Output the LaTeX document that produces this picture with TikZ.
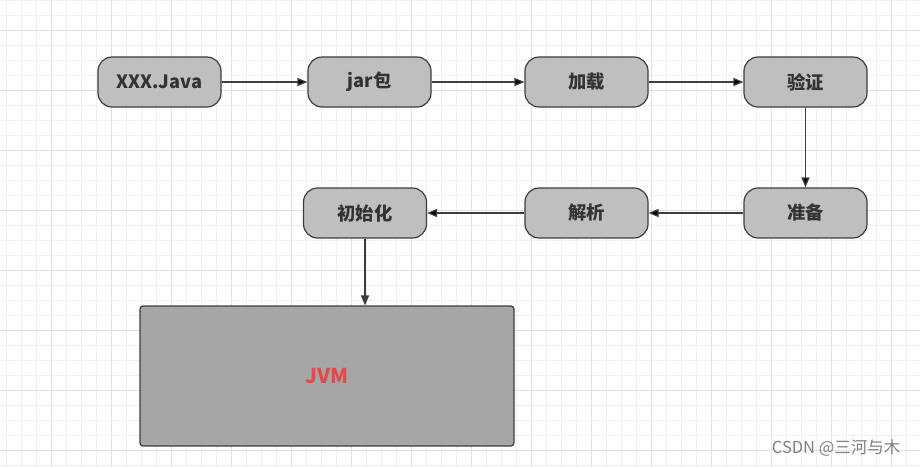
\documentclass[tikz,border=0pt]{standalone}
\usepackage{fontspec}
\newfontfamily\cjk{Noto Sans CJK SC}
\usetikzlibrary{arrows.meta, positioning}
\definecolor{gridminor}{HTML}{F0F0F0}
\definecolor{gridmajor}{HTML}{E2E2E2}
\definecolor{boxfill}{HTML}{BFBFBF}
\definecolor{jvmfill}{HTML}{A6A6A6}
\definecolor{edgecol}{HTML}{3A3D42}
\definecolor{jvmred}{HTML}{E8474C}

\begin{document}
\begin{tikzpicture}[x=1pt, y=-1pt, >={Triangle[length=10pt, width=8pt]}]
		\tikzstyle{step box} = [draw=edgecol, line width=1.2pt, fill=boxfill, rounded corners=14pt,
		                        minimum width=123pt, minimum height=50pt, inner sep=0pt,
		                        font=\cjk\bfseries\fontsize{18.3}{18}\selectfont, text=black!80]
		\tikzstyle{flow} = [draw=edgecol, line width=1.2pt, ->]
		
		% background grid
		\useasboundingbox (0,0) rectangle (920,467);
		\fill[white] (0,0) rectangle (920,467);
		\foreach \x in {6.7,21.7,...,920} \draw[gridminor, line width=0.8pt] (\x,0) -- (\x,467);
		\foreach \y in {0,15,...,467} \draw[gridminor, line width=0.8pt] (0,\y) -- (920,\y);
		\foreach \x in {51.7,111.7,...,920} \draw[gridmajor, line width=0.9pt] (\x,0) -- (\x,467);
		\foreach \y in {30,90,...,467} \draw[gridmajor, line width=0.9pt] (0,\y) -- (920,\y);
		
		\node[step box] at (159.5, 82)  (java)   {XXX.Java};
		\node[step box] at (369.5, 82)  (jar)    {jar包};
		\node[step box] at (586.5, 82)  (load)   {加载};
		\node[step box] at (805.5, 82)  (verify) {验证};
		\node[step box] at (805.5, 213) (prep)   {准备};
		\node[step box] at (586.5, 213) (parse)  {解析};
		\node[step box] at (365, 213)   (init)   {初始化};
		
		\node[draw=edgecol, line width=1.2pt, fill=jvmfill, rounded corners=3pt,
		      minimum width=374pt, minimum height=140pt, inner sep=0pt,
		      font=\cjk\bfseries\fontsize{20.5}{20}\selectfont, text=jvmred]
		      at (327, 376) (jvm) {JVM};
		
		\path[flow]
		(java)   edge (jar)
		(jar)    edge (load)
		(load)   edge (verify)
		(verify) edge (prep)
		(prep)   edge (parse)
		(parse)  edge (init);
		\draw[flow] (init.south) -- (init.south |- jvm.north);
		
		% watermark
		\node[font=\cjk\fontsize{16.5}{16}\selectfont, text=black!50, anchor=east] at (904, 448) (mark) {CSDN @三河与木};
\end{tikzpicture}
\end{document}
